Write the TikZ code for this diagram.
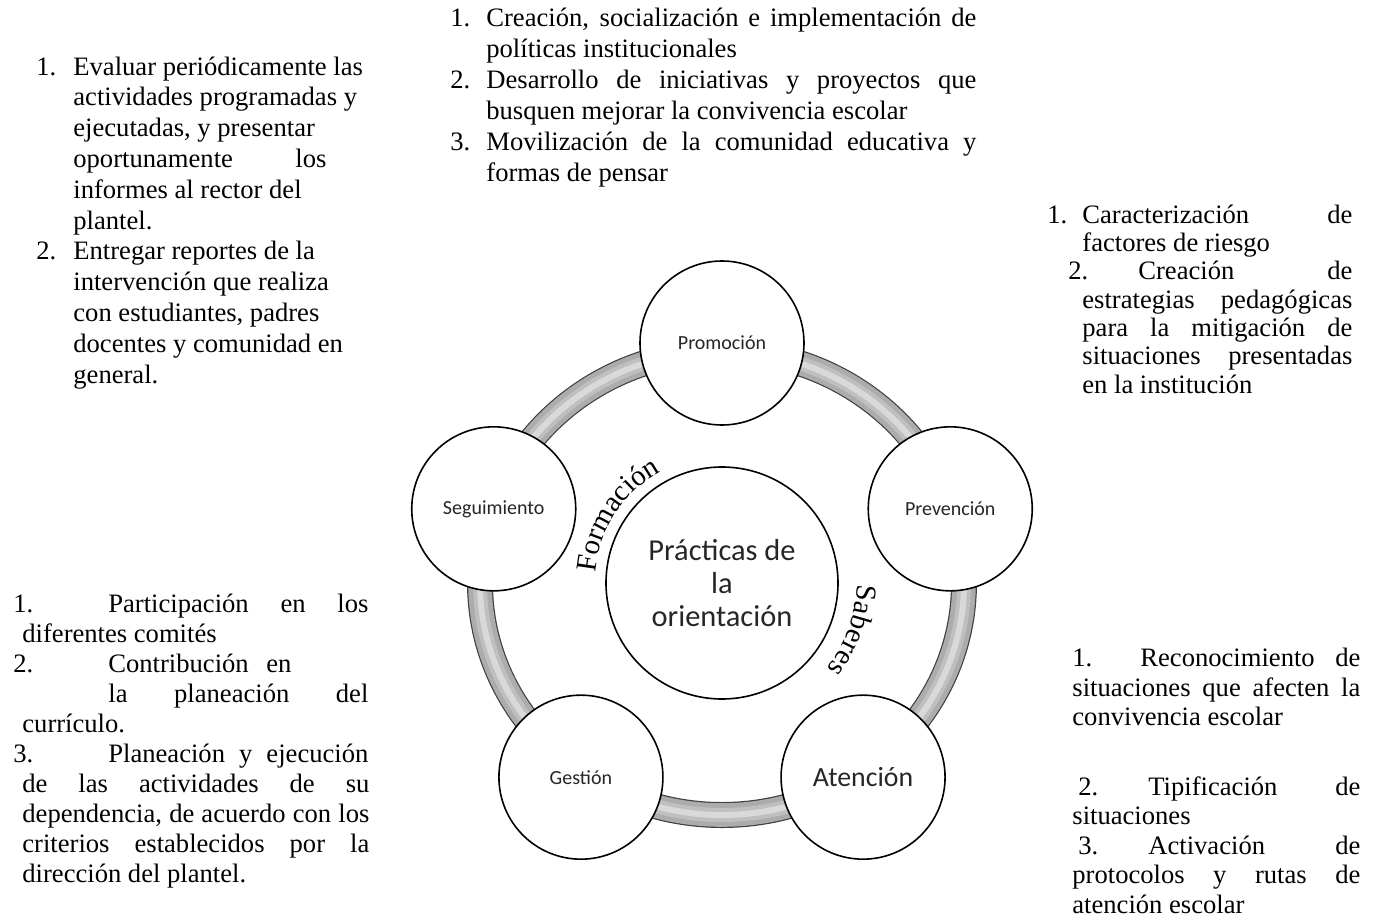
\documentclass[tikz,border=0pt]{standalone}
\usepackage{fontspec}
\setmainfont{Liberation Serif}
\newfontfamily\calibri{Carlito}
\newfontfamily\romana{Liberation Serif}
\usepackage{tikz}

\newcommand{\numbox}[2]{\makebox[#1][l]{#2}}
\newcommand{\jline}[2]{\makebox[#1][s]{#2}}

\begin{document}
\begin{tikzpicture}[x=0.5pt, y=0.5pt, every node/.style={text=black}]
  \tikzstyle{etapa}=[circle, draw=black, line width=0.8pt, fill=white,
                     minimum size=82pt, inner sep=0pt, text=black!85,
                     font=\calibri\fontsize{10}{12}\selectfont]
  \tikzstyle{lista}=[anchor=base west, inner sep=0pt, align=left]
  \tikzstyle{curva}=[anchor=base, inner sep=0pt,
                     font=\romana\fontsize{14.5}{16}\selectfont]

  \useasboundingbox (-722,-339) rectangle (653,583);

  % anillo
  \draw[line width=13pt, black!75]  (0,0) ellipse [x radius=242, y radius=232];
  \draw[line width=11.8pt, gray!65] (0,0) ellipse [x radius=242, y radius=232];
  \draw[line width=7pt, gray!50]    (0,0) ellipse [x radius=242, y radius=232];
  \draw[line width=3pt, gray!30]    (0,0) ellipse [x radius=242, y radius=232];

  \node[etapa] (promocion)   at (90:240)  {Promoción};
  \node[etapa] (prevencion)  at (18:240)  {Prevención};
  \node[etapa, font=\calibri\fontsize{13.9}{16}\selectfont]
               (atencion)    at (-54:240) {Atención};
  \node[etapa] (gestion)     at (-126:240) {Gestión};
  \node[etapa] (seguimiento) at (162:240) {Seguimiento};
  \node[etapa, minimum size=116pt, align=center,
        font=\calibri\fontsize{15.2}{16.5}\selectfont] (practicas) at (0,0)
        {Prácticas de\\la\\orientación};

  % letras sobre el arco
  \foreach \letra/\ang [count=\i] in {F/171.7, o/164.8, r/159.4, m/152.1, a/144.1,
                                      c/138.3, i/133.6, ó/128.5, n/121.9}
    \node[curva, rotate=\ang-90] (formacion\i) at (\ang:127) {\letra};
  \foreach \letra/\ang [count=\i] in {S/-4.17, a/-10.33, b/-16.14, e/-21.95,
                                      r/-26.73, e/-31.51, s/-36.64}
    \node[curva, rotate=\ang-90] (saberes\i) at (\ang:135) {\letra};

  % textos (el ancla es la linea base de la ultima linea)
  \node[lista, font=\fontsize{13.3}{15.5}\selectfont] (creacion) at (-272,401) {%
    \numbox{18pt}{1.}\jline{245pt}{Creación, socialización e implementación de}\\
    \hspace*{18pt}políticas institucionales\\
    \numbox{18pt}{2.}\jline{245pt}{Desarrollo de iniciativas y proyectos que}\\
    \hspace*{18pt}busquen mejorar la convivencia escolar\\
    \numbox{18pt}{3.}\jline{245pt}{Movilización de la comunidad educativa y}\\
    \hspace*{18pt}formas de pensar};

  \node[lista, font=\fontsize{13.3}{15.4}\selectfont] (evaluar) at (-686,200) {%
    \numbox{18.5pt}{1.}Evaluar periódicamente las\\
    \hspace*{18.5pt}actividades programadas y\\
    \hspace*{18.5pt}ejecutadas, y presentar\\
    \hspace*{18.5pt}\jline{126.5pt}{oportunamente los}\\
    \hspace*{18.5pt}informes al rector del\\
    \hspace*{18.5pt}plantel.\\
    \numbox{18.5pt}{2.}Entregar reportes de la\\
    \hspace*{18.5pt}intervención que realiza\\
    \hspace*{18.5pt}con estudiantes, padres\\
    \hspace*{18.5pt}docentes y comunidad en\\
    \hspace*{18.5pt}general.};

  \node[lista, font=\fontsize{13.3}{14.15}\selectfont] (riesgo) at (325,190) {%
    \numbox{17.5pt}{1.}\jline{135pt}{Caracterización de}\\
    \hspace*{17.5pt}factores de riesgo\\
    \hspace*{10.5pt}\numbox{35pt}{2.}\jline{107pt}{Creación de}\\
    \hspace*{17.5pt}\jline{135pt}{estrategias pedagógicas}\\
    \hspace*{17.5pt}\jline{135pt}{para la mitigación de}\\
    \hspace*{17.5pt}\jline{135pt}{situaciones presentadas}\\
    \hspace*{17.5pt}en la institución};

  \node[lista, font=\fontsize{13.3}{14.75}\selectfont] (reconocimiento) at (350,-330) {%
    \numbox{34pt}{1.}\jline{110pt}{Reconocimiento de}\\
    \jline{144pt}{situaciones que afecten la}\\
    convivencia escolar\\[20pt]
    \hspace*{3pt}\numbox{35pt}{2.}\jline{106pt}{Tipificación de}\\
    situaciones\\
    \hspace*{3pt}\numbox{35pt}{3.}\jline{106pt}{Activación de}\\
    \jline{144pt}{protocolos y rutas de}\\
    atención escolar};

  \node[lista, font=\fontsize{13.3}{15}\selectfont] (participacion) at (-709,-299) {%
    \numbox{47.5pt}{1.}\jline{130pt}{Participación en los}\\
    \hspace*{4.5pt}diferentes comités\\
    \numbox{47.5pt}{2.}\jline{91.5pt}{Contribución en}\\
    \hspace*{47.5pt}\jline{130pt}{la planeación del}\\
    \hspace*{4.5pt}currículo.\\
    \numbox{47.5pt}{3.}\jline{130pt}{Planeación y ejecución}\\
    \hspace*{4.5pt}\jline{173.5pt}{de las actividades de su}\\
    \hspace*{4.5pt}\jline{173.5pt}{dependencia, de acuerdo con los}\\
    \hspace*{4.5pt}\jline{173.5pt}{criterios establecidos por la}\\
    \hspace*{4.5pt}dirección del plantel.};
\end{tikzpicture}
\end{document}
